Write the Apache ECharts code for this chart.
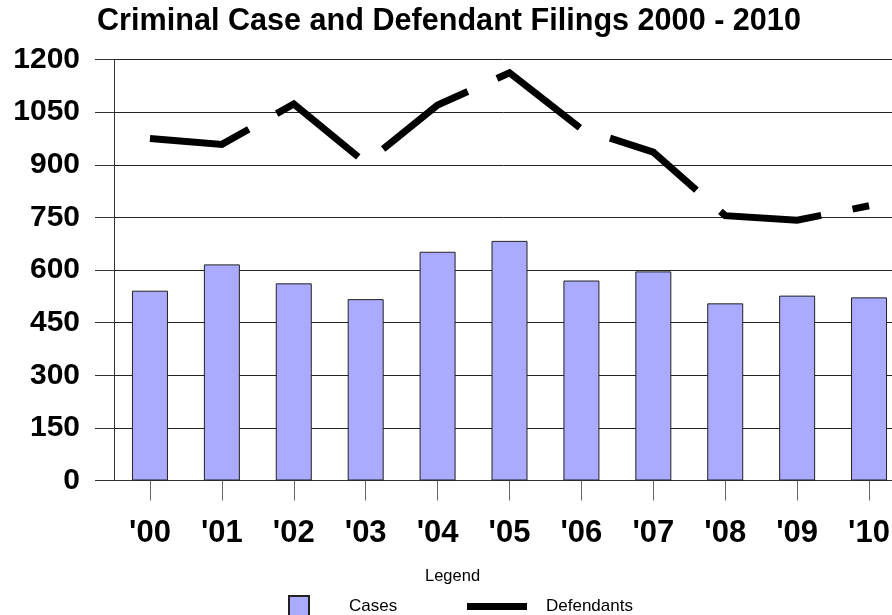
<!DOCTYPE html>
<html>
<head>
<meta charset="utf-8">
<script src="https://cdn.jsdelivr.net/npm/echarts@6/dist/echarts.min.js"></script>
<style>
html,body{margin:0;padding:0;background:#fff;}
#chart{width:892px;height:615px;}
</style>
</head>
<body>
<div id="chart"></div>
<script>
var titleText = 'Criminal Case and Defendant Filings 2000 - 2010';
var categories = ["'00", "'01", "'02", "'03", "'04", "'05", "'06", "'07", "'08", "'09", "'10"];
var cases = [541, 616, 562, 517, 652, 683, 570, 596, 505, 527, 522];
var defendants = [975, 958, 1073, 905, 1070, 1162, 1002, 936, 755, 742, 783];
var yMin = 0, yMax = 1200, yStep = 150;

var FONT = "'Liberation Sans', Arial, sans-serif";
var chart = echarts.init(document.getElementById('chart'), null, {renderer: 'canvas'});
chart.setOption({
  animation: false,
  backgroundColor: '#fff',
  title: {
    text: titleText,
    left: 92,
    top: 1,
    textStyle: {fontFamily: FONT, fontSize: 30.6, fontWeight: 'bold', color: '#000'}
  },
  grid: {left: 114, top: 59.5, bottom: 134.5, width: 791, containLabel: false, outerBoundsMode: 'none'},
  legend: [
    {
      data: [{name: 'Cases', icon: 'rect'}],
      left: 288, top: 595,
      padding: 0,
      itemWidth: 20, itemHeight: 20,
      selectedMode: false,
      textStyle: {fontFamily: FONT, fontSize: 17, color: '#000', padding: [0, 0, 0, 35]}
    },
    {
      data: [{name: 'Defendants', icon: 'rect', itemStyle: {color: '#000'}}],
      left: 467, top: 598,
      padding: 0,
      itemWidth: 60, itemHeight: 7,
      selectedMode: false,
      textStyle: {fontFamily: FONT, fontSize: 17, color: '#000', padding: [0, 0, 0, 14]}
    }
  ],
  graphic: [{
    type: 'text',
    left: 425, top: 568,
    style: {text: 'Legend', font: "16.5px 'Liberation Sans', Arial, sans-serif", fill: '#000'}
  }],
  xAxis: {
    type: 'category',
    data: categories,
    boundaryGap: true,
    axisLine: {show: true, lineStyle: {color: '#333', width: 1}},
    axisTick: {show: true, alignWithLabel: true, length: 20, lineStyle: {color: '#666'}},
    axisLabel: {fontFamily: FONT, fontSize: 31, fontWeight: 'bold', color: '#000', margin: 37},
    splitLine: {show: false}
  },
  yAxis: {
    type: 'value',
    min: yMin, max: yMax, interval: yStep,
    axisLine: {show: true, lineStyle: {color: '#333', width: 1}},
    axisTick: {show: true, length: 19, lineStyle: {color: '#333'}},
    axisLabel: {fontFamily: FONT, fontSize: 30, fontWeight: 'bold', color: '#000', margin: 34,
      formatter: function (v) { return String(v); }},
    splitLine: {show: true, lineStyle: {color: '#222', width: 1}}
  },
  series: [
    {
      name: 'Cases',
      type: 'bar',
      data: cases,
      barWidth: 36,
      itemStyle: {color: '#AAAAFF', borderColor: '#222', borderWidth: 1}
    },
    {
      name: 'Defendants',
      type: 'line',
      data: defendants,
      showSymbol: false,
      symbol: 'none',
      itemStyle: {color: '#000'},
      lineStyle: {color: '#000', width: 7, type: [103, 32], cap: 'butt', join: 'miter'},
      z: 5
    }
  ]
});
</script>
</body>
</html>
